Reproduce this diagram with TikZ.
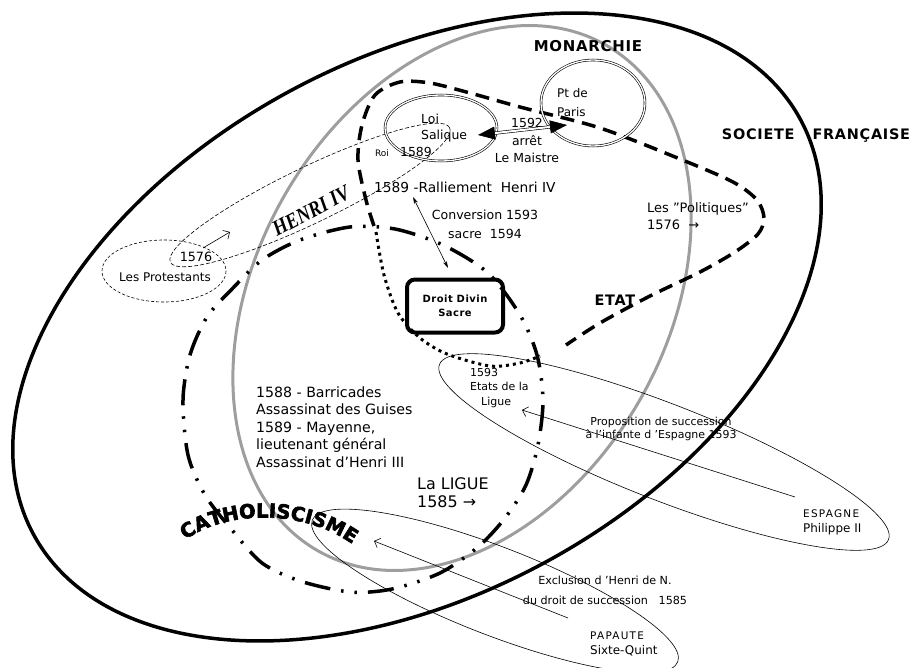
\documentclass[tikz,border=0pt]{standalone}
\usepackage{fontspec}
\setmainfont{DejaVu Sans}
\newfontfamily\titrefont[LetterSpace=5]{DejaVu Sans}
\newfontfamily\espacefont[LetterSpace=12]{DejaVu Sans}
\newfontfamily\lourdfont{DejaVu Sans}[BoldFeatures={FakeBold=3}]
\newfontfamily\henrifont{Liberation Serif}
\usetikzlibrary{shapes.geometric,arrows.meta,decorations.text}
\begin{document}
\begin{tikzpicture}[x=1bp,y=-1bp,
    every node/.style={inner sep=0pt},
    txt/.style={font=\fontsize{13}{17}\selectfont,align=left},
    petit/.style={font=\fontsize{11}{13}\selectfont,align=left},
    titre/.style={font=\titrefont\bfseries\fontsize{14.5}{16}\selectfont},
    bulle/.style={ellipse,draw,double,double distance=1.3bp,line width=0.6bp},
    fin/.style={line width=0.6bp},
    fleche/.style={fin,-{Straight Barb[length=5bp,width=10bp]}}]
  \useasboundingbox (0,0) rectangle (918,668);
  \draw[line width=3.5bp,rotate around={28.4:(417,327)}] (417,327) ellipse [x radius=436,y radius=268];
  \draw[line width=3bp,black!38,rotate around={-29.7:(462,298)}] (462,298) ellipse [x radius=205,y radius=291];
  \draw[line width=3.5bp,dash pattern=on 14bp off 8bp] plot[smooth] coordinates {(374,226) (366,200) (358,160) (362,125) (375,95) (400,82) (430,83) (470,93) (520,107) (600,128) (680,159) (733,182) (757,200) (764,218) (758,234) (735,252) (700,272) (650,296) (600,323) (566,345)};
  \draw[line width=3bp,dash pattern=on 3bp off 4bp] plot[smooth] coordinates {(376,232) (384,275) (398,313) (420,338) (447,354) (490,366) (520,363) (540,356)};
  \draw[line width=3.5bp,dash pattern=on 26bp off 11bp on 2.5bp off 11bp on 2.5bp off 11bp] plot[smooth cycle] coordinates {(183,400) (190,355) (207,317) (233,288) (262,260) (300,240) (350,227) (395,229) (443,245) (488,273) (520,315) (537,355) (543,400) (538,445) (526,485) (505,518) (478,547) (440,573) (392,589) (350,592) (300,581) (262,563) (232,530) (205,495) (188,455)};
  \draw[fin,dash pattern=on 3bp off 2bp] (164,271) ellipse [x radius=62,y radius=31];
  \draw[fin,dash pattern=on 4bp off 2bp,rotate around={25.7:(310,195)}] (310,195) ellipse [x radius=155,y radius=28];
  \draw[fin,rotate around={-21.3:(664,452)}] (664,452) ellipse [x radius=241,y radius=48];
  \draw[fin,rotate around={-21.2:(495,591)}] (495,591) ellipse [x radius=196,y radius=44];

  \node[bulle,minimum width=112bp,minimum height=66bp] (loi) at (441,128) {};
  \node[bulle,minimum width=104bp,minimum height=86bp] (paris) at (593,103) {};
  \node[draw,line width=4bp,rounded corners=8bp,minimum width=96bp,minimum height=53bp,align=center,
    font=\titrefont\bfseries\fontsize{10}{14}\selectfont] (droit) at (455,306) {Droit Divin\\Sacre};

  \node[titre,font=\titrefont\bfseries\fontsize{15}{16}\selectfont] (monarchie) at (588,46) {MONARCHIE};
  \node[titre] (societe) at (816,136) {SOCIETE\hspace{18bp}FRANÇAISE};
  \node[titre] (etat) at (615,300) {ETAT};
  \node[rotate=28,font=\henrifont\bfseries\itshape\fontsize{22}{22}\selectfont] (henri) at (311,211) {\scalebox{0.85}[1]{HENRI IV}};
  \node[txt,anchor=west,font=\fontsize{12.5}{16}\selectfont] (loitxt) at (421,128.5) {Loi\\Salique};
  \node[txt,anchor=west,font=\fontsize{12}{19}\selectfont] (paristxt) at (557,102.5) {Pt de\\Paris};
  \node[txt,align=center,font=\fontsize{12.5}{17.5}\selectfont] (arret) at (527,140.5) {1592\\arrêt\\Le Maistre};
  \node[font=\fontsize{9}{9}\selectfont] (roi) at (382,153) {Roi};
  \node[txt,font=\fontsize{12.5}{13}\selectfont] (sacre) at (416,152) {1589};
  \node[txt,anchor=west,font=\fontsize{13.8}{17}\selectfont] (ralliement) at (374,187) {1589 -Ralliement~~Henri IV};
  \node[txt,align=center,font=\fontsize{12.6}{19}\selectfont] (conversion) at (485,224) {Conversion 1593\\sacre~~1594};
  \node[txt,anchor=west] (politiques) at (647,216) {Les "Politiques"\\1576~~→};
  \node[petit,anchor=west,font=\fontsize{11}{14.5}\selectfont] (etats) at (470,388) {1593\\Etats de la\\\hspace*{11bp}Ligue};
  \node[txt,anchor=west,font=\fontsize{14.2}{17.5}\selectfont] (guerre) at (256,427) {1588 - Barricades\\Assassinat des Guises\\1589 - Mayenne,\\lieutenant général\\Assassinat d'Henri III};
  \node[txt,anchor=west,font=\fontsize{16}{18}\selectfont] (ligue) at (417,493) {La LIGUE\\1585 →};
  \node[petit,align=center] (proposition) at (661,428.5) {Proposition de succession\\à l'infante d 'Espagne 1593};
  \node[petit,anchor=west,font=\fontsize{12}{15}\selectfont] (espagne) at (803,522) {{\espacefont\fontsize{10.5}{15}\selectfont ESPAGNE}\\Philippe II};
  \node[petit,align=center,font=\fontsize{11.2}{20}\selectfont] (exclusion) at (605,590) {Exclusion d 'Henri de N.\\du droit de succession~~~1585};
  \node[petit,anchor=west,font=\fontsize{12}{15}\selectfont] (papaute) at (590,643.5) {{\espacefont\fontsize{10.5}{15}\selectfont PAPAUTE}\\Sixte-Quint};
  \node[font=\fontsize{12.8}{13}\selectfont] (date) at (196,257) {1576};
  \node[font=\fontsize{12}{12}\selectfont] (protestants) at (165,277) {Les Protestants};

  \path[decorate,decoration={text along path,text align=center,
    text={|\lourdfont\bfseries\fontsize{19.5}{20}\selectfont|CATHOLISCISME}}] (170,553) .. controls (213,506) and (314,504) .. (368,557);

  \coordinate (loiA) at (478,135);
  \coordinate (parisA) at (567,125);
  \coordinate (ralA) at (413,197);
  \coordinate (droitA) at (448,268);
  \coordinate (protA) at (203,248);
  \coordinate (henriA) at (230,232);
  \coordinate (espA) at (795,497);
  \coordinate (etatsA) at (522,410);
  \coordinate (papA) at (568,618);
  \coordinate (cathA) at (374,541);
  \draw[line width=0.6bp,double,double distance=2bp,{Triangle[length=17bp,width=13bp]}-{Triangle[length=17bp,width=13bp]}] (loiA) -- (parisA);
  \draw[fin,{Stealth[length=7bp,width=4bp]}-{Stealth[length=7bp,width=4bp]}] (ralA) -- (droitA);
  \draw[fleche] (protA) -- (henriA);
  \draw[fleche] (espA) -- (etatsA);
  \draw[fleche] (papA) -- (cathA);
\end{tikzpicture}
\end{document}
